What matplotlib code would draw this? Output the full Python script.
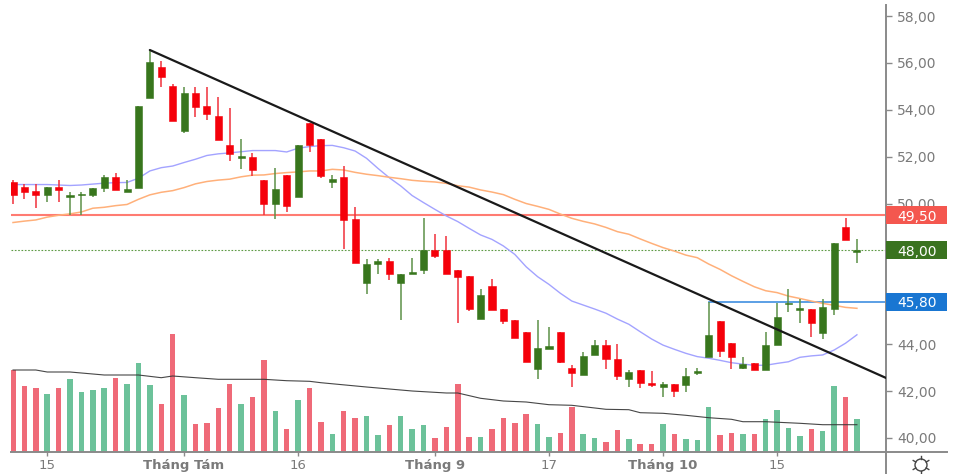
import numpy as np
import matplotlib
matplotlib.use("Agg")
import matplotlib.pyplot as plt
from matplotlib.patches import Rectangle, Ellipse
from matplotlib.lines import Line2D
from matplotlib.transforms import blended_transform_factory

# gia theo phien, doc tu anh
c_high = [51.0,50.83,50.83,50.71,51.0,50.51,50.51,50.68,51.2,51.32,51.0,54.14,56.55,56.06,55.1,54.96,54.96,54.96,54.53,54.06,52.74,52.14,51.0,51.52,51.23,52.51,53.45,
          52.74,51.22,51.6,49.84,47.62,47.62,47.66,47.0,47.66,49.4,48.7,48.63,47.18,46.9,46.34,46.8,45.5,45.02,44.5,45.03,44.72,44.5,43.11,43.67,44.18,44.18,43.99,
          42.9,42.9,42.85,42.37,42.29,42.97,42.97,45.81,45.0,44.06,43.47,43.2,44.5,45.74,46.34,45.91,45.49,45.93,48.33,49.4,48.5]
c_open = [50.9,50.71,50.54,50.37,50.71,50.3,50.35,50.37,50.68,51.13,50.49,50.68,54.49,55.81,55.03,53.1,54.73,54.14,53.74,52.51,51.96,52.0,51.0,49.98,51.23,50.3,53.45,
          52.74,50.9,51.13,49.35,46.6,47.44,47.53,46.6,46.98,47.17,48.0,48.0,47.18,46.9,45.07,46.48,45.5,45.02,44.5,42.94,43.81,44.5,42.97,42.69,43.55,43.98,43.36,
          42.51,42.9,42.36,42.19,42.29,42.26,42.78,43.47,45.0,44.06,42.98,43.2,42.88,43.96,45.7,45.47,45.49,44.46,45.5,49.0,47.92]
c_close = [50.37,50.49,50.35,50.71,50.58,50.37,50.42,50.68,51.13,50.58,50.62,54.14,56.04,55.4,53.5,54.73,54.1,53.8,52.71,52.12,52.03,51.42,49.98,50.6,49.9,52.51,52.5,
           51.19,51.03,49.3,47.45,47.44,47.53,47.0,47.0,47.09,48.0,47.75,46.98,46.85,45.49,46.1,45.46,44.99,44.25,43.25,43.85,43.94,43.25,42.77,43.5,43.98,43.35,42.64,
           42.8,42.33,42.26,42.29,42.01,42.64,42.85,44.4,43.72,43.44,43.15,42.88,43.98,45.15,45.77,45.53,44.92,45.57,48.33,48.43,48.02]
c_low = [49.98,50.18,49.8,50.05,50.05,49.51,49.51,50.27,50.49,50.58,50.49,50.68,54.49,54.99,53.5,53.0,53.7,53.57,52.71,51.8,51.49,51.18,49.51,49.33,49.65,50.3,52.19,
         51.09,50.66,48.06,47.45,46.16,46.98,46.75,45.03,46.98,46.98,47.66,46.98,44.92,45.43,45.07,45.46,44.86,44.25,43.25,42.51,43.81,43.2,42.19,42.69,43.55,42.94,42.47,
         42.19,42.12,42.19,41.73,41.73,41.97,42.68,43.47,43.47,42.96,42.94,42.88,42.88,43.96,45.39,44.92,44.29,44.22,45.24,48.43,47.45]
volume = [82,66,63.7,58,63.7,73,59.7,61.7,63.7,74,68,89,67,47.7,117.7,56.7,28.3,29.3,43.7,68,47.7,54.7,92,40.7,23,51.7,63.7,
          30,17.7,41,34,36,16.7,26.7,36,22.7,26.7,13.7,25,68,14.7,14.7,22.7,34,29,38,28,14.7,18.7,45,17.7,13.7,9.7,21.7,
          12.7,8.3,8.3,28,17.7,12.7,11.7,45,16.7,18.7,17.7,17.7,33,42,24,15.7,22.7,20.7,65.7,55.3,33]

ma_blue = [50.81,50.81,50.81,50.81,50.79,50.77,50.79,50.83,50.87,50.89,50.9,51.08,51.39,51.53,51.6,51.75,51.89,52.05,52.12,52.16,52.21,52.26,52.26,52.26,52.2,52.36,52.43,
           52.47,52.48,52.38,52.24,51.93,51.5,51.1,50.75,50.34,50.04,49.75,49.47,49.23,48.94,48.66,48.47,48.19,47.83,47.3,46.88,46.55,46.17,45.84,45.67,45.5,45.32,45.07,
           44.85,44.53,44.22,43.96,43.78,43.61,43.47,43.4,43.31,43.21,43.15,43.1,43.1,43.18,43.25,43.44,43.5,43.54,43.75,44.04,44.4]
ma_orange = [49.19,49.25,49.3,49.42,49.5,49.56,49.64,49.8,49.84,49.91,49.96,50.18,50.37,50.48,50.55,50.68,50.84,50.94,51.0,51.04,51.14,51.21,51.22,51.28,51.32,51.35,51.39,
             51.39,51.46,51.43,51.33,51.25,51.19,51.12,51.06,50.99,50.95,50.92,50.86,50.76,50.7,50.58,50.49,50.38,50.18,50.0,49.88,49.75,49.55,49.37,49.24,49.13,48.98,48.8,
             48.69,48.49,48.3,48.12,47.97,47.8,47.69,47.42,47.19,46.92,46.68,46.45,46.28,46.2,46.05,45.95,45.84,45.74,45.66,45.57,45.53]
vol_ma_idx = [0,2,3,5,8,11,13,14,16,18,22,24,26,27,31,35,38,39,41,43,45,47,49,52,54,55,57,59,61,63,64,66,69,71,74]
vol_ma = [82,82,80,80,77,77,74.3,76,74.3,72.7,72.7,71.3,70.7,69.3,65,61,59,59,53.7,51,50,47.3,46.7,42.7,42.3,39.3,38.7,36.7,34.3,32.7,30.3,30.3,28.7,27.3,27.3]

price_ticks = [40,42,44,46,48,50,52,54,56,58]
price_labels = ["40,00","42,00","44,00","46,00","48,00","50,00","52,00","54,00","56,00","58,00"]
date_idx = [3,15,25,37,47,57,67]
date_labels = ["15","Tháng Tám","16","Tháng 9","17","Tháng 10","15"]
trend_x = [12,76.55]
trend_y = [56.55,42.56]
level_tags = [(49.5,"49,50","#f4574f"),(48.0,"48,00","#3a7320"),(45.8,"45,80","#1976d2")]

W, H = 955, 474
PX_L, PX_R, PX_T, PX_B = 11, 886, 5, 452
GRAY = "#8a8a8a"
TXT = "#7a7a7a"
RED, GREEN = "#f5000a", "#38761d"

fig = plt.figure(figsize=(W/100, H/100), dpi=100, facecolor="white")
rect = [PX_L/W, 1-PX_B/H, (PX_R-PX_L)/W, (PX_B-PX_T)/H]
ax_vol = fig.add_axes(rect, zorder=1)
ax = fig.add_axes(rect, zorder=2)
ax.patch.set_visible(False)

xlim = (-0.175, 76.55)
ax.set_xlim(xlim)
ax.set_ylim(39.40, 58.47)
ax_vol.set_xlim(xlim)
ax_vol.set_ylim(0, PX_B-PX_T)
ax_vol.axis("off")

# volume
x = np.arange(len(c_open))
up = np.array(c_close) >= np.array(c_open)
vol_colors = ["#6cc29a" if u else "#ef6a78" for u in up]
ax_vol.bar(x, volume, width=0.48, color=vol_colors, linewidth=0)
ax_vol.plot(vol_ma_idx, vol_ma, color="#333333", lw=0.8, alpha=0.9)

# duong ngang
ax.axhline(49.5, color="#ff7b72", lw=1.5, zorder=2)
ax.axhline(48.0, color="#5d9a45", lw=0.8, ls=(0, (1.5, 1.5)), zorder=2)
ax.plot([61, xlim[1]], [45.8, 45.8], color="#3f8fe0", lw=1.2, zorder=2)

# MA
ax.plot(x, ma_blue, color="#a3a3ff", lw=1.0, zorder=2.2)
ax.plot(x, ma_orange, color="#ffb07a", lw=1.1, zorder=2.2)

# nen
for i in x:
    col = GREEN if up[i] else RED
    wick = "#5c9148" if up[i] else "#f0303a"
    ax.plot([i, i], [c_low[i], c_high[i]], color=wick, lw=1.1, zorder=3, solid_capstyle="butt")
    b0 = min(c_open[i], c_close[i])
    bh = abs(c_close[i]-c_open[i])
    ax.add_patch(Rectangle((i-0.31, b0), 0.62, bh, facecolor=col, edgecolor=col, lw=0.4, zorder=3.2))

ax.plot(trend_x, trend_y, color="#1a1a1a", lw=1.6, zorder=4, solid_capstyle="round")

# truc
for s in ["top", "left"]:
    ax.spines[s].set_visible(False)
for s in ["right", "bottom"]:
    ax.spines[s].set_color(GRAY)
    ax.spines[s].set_linewidth(1.4)
ax.yaxis.tick_right()
ax.set_yticks(price_ticks)
ax.set_yticklabels(price_labels, fontsize=10, color=TXT, family="DejaVu Sans")
ax.set_xticks(date_idx)
ax.set_xticklabels(date_labels, fontsize=9.5, color=TXT, family="DejaVu Sans")
for t, lab in zip(ax.get_xticklabels(), date_labels):
    if "Tháng" in lab:
        t.set_fontweight("bold")
ax.tick_params(axis="y", length=4.5, width=1.0, color=GRAY, pad=3.5)
ax.tick_params(axis="x", length=3, width=1.0, color=GRAY, pad=2)

# nhan gia
tr = blended_transform_factory(ax.transAxes, ax.transData)
tag_w = 61/(PX_R-PX_L)
tag_h = 18/23.44
for val, lab, col in level_tags:
    ax.add_patch(Rectangle((1.0, val-tag_h/2), tag_w, tag_h, transform=tr, facecolor=col, edgecolor="none", clip_on=False, zorder=6))
    ax.text(1.0+31/(PX_R-PX_L), val, lab, transform=tr, color="white", fontsize=10, ha="center", va="center_baseline", zorder=7, clip_on=False)

# truc keo dai va banh rang
fig.add_artist(Line2D([PX_R/W, 947/W], [1-PX_B/H]*2, color=GRAY, lw=1.4))
fig.add_artist(Line2D([PX_R/W]*2, [0, 1-PX_B/H], color=GRAY, lw=1.4))
gx, gy, gr = 921, 465, 6
fig.add_artist(Ellipse((gx/W, 1-gy/H), 2*gr/W, 2*gr/H, transform=fig.transFigure, fill=False, ec="#444444", lw=1.0))
for a in np.deg2rad([30, 90, 150, 210, 270, 330]):
    fig.add_artist(Line2D([(gx+gr*np.cos(a))/W, (gx+(gr+3)*np.cos(a))/W],
                          [1-(gy+gr*np.sin(a))/H, 1-(gy+(gr+3)*np.sin(a))/H], color="#444444", lw=1.0))

fig.savefig("out.png", dpi=100)
